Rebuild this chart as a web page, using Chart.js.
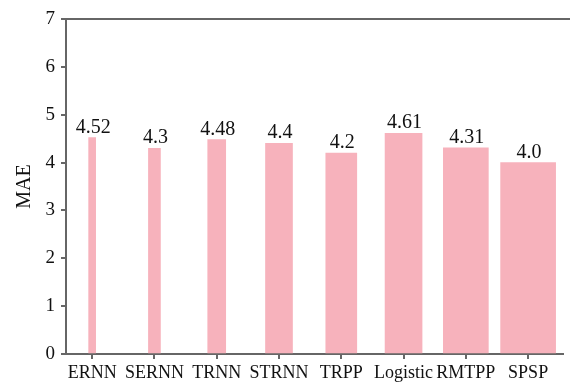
<!DOCTYPE html>
<html>
<head>
<meta charset="utf-8">
<script src="https://cdn.jsdelivr.net/npm/chart.js@4/dist/chart.umd.min.js"></script>
<style>
    html, body { margin: 0; padding: 0; background: #fff; }
    #wrap { width: 570px; height: 383px; }
</style>
</head>
<body>
<div id="wrap"><canvas id="maeChart" width="570" height="383"></canvas></div>
<script>
const categories = ['ERNN', 'SERNN', 'TRNN', 'STRNN', 'TRPP', 'Logistic', 'RMTPP', 'SPSP'];
const maeValues = [4.52, 4.3, 4.48, 4.4, 4.2, 4.61, 4.31, 4.0];
const maeLabels = ['4.52', '4.3', '4.48', '4.4', '4.2', '4.61', '4.31', '4.0'];
const yTicks = [0, 1, 2, 3, 4, 5, 6, 7];

// bar widths grow from left to right in the original figure
const barWidths = [7, 12, 18, 27, 31, 37, 45, 55];
const barColor = '#f7b2bc';
const axisColor = '#666666';
const serif = '"Liberation Serif", "Times New Roman", serif';

// one dataset per bar so each can have its own thickness
const datasets = categories.map((name, i) => ({
    label: name,
    data: [{ x: i, y: maeValues[i] }],
    backgroundColor: barColor,
    borderWidth: 0,
    barThickness: barWidths[i],
    grouped: false
}));

const valueLabelPlugin = {
    id: 'valueLabels',
    afterDatasetsDraw(chart) {
        const ctx = chart.ctx;
        ctx.save();
        ctx.font = '20px ' + serif;
        ctx.fillStyle = '#111';
        ctx.textAlign = 'center';
        ctx.textBaseline = 'alphabetic';
        chart.data.datasets.forEach((ds, i) => {
            const bar = chart.getDatasetMeta(i).data[0];
            if (!bar) return;
            ctx.fillText(maeLabels[i], bar.x + 1, bar.y - 5);
        });
        ctx.restore();
    }
};

// the frame in the original has a top line running to the right edge
const topBorderPlugin = {
    id: 'topBorder',
    afterDraw(chart) {
        const { ctx, chartArea } = chart;
        ctx.save();
        ctx.strokeStyle = axisColor;
        ctx.lineWidth = 2;
        ctx.beginPath();
        ctx.moveTo(chartArea.left, chartArea.top);
        ctx.lineTo(chart.width, chartArea.top);
        ctx.stroke();
        ctx.restore();
    }
};

const ctx = document.getElementById('maeChart').getContext('2d');
new Chart(ctx, {
    type: 'bar',
    data: { datasets: datasets },
    plugins: [valueLabelPlugin, topBorderPlugin],
    options: {
        responsive: false,
        animation: false,
        layout: { autoPadding: false, padding: { top: 19, right: 7, left: 0, bottom: 0 } },
        plugins: {
            legend: { display: false },
            tooltip: { enabled: false }
        },
        scales: {
            x: {
                type: 'linear',
                offset: false,
                min: -0.42,
                max: 7.56,
                afterBuildTicks: function(axis) {
                    axis.ticks = categories.map((c, i) => ({ value: i }));
                },
                afterFit: function(axis) { axis.height = 29; },
                grid: {
                    display: true,
                    offset: false,
                    drawOnChartArea: false,
                    drawTicks: true,
                    tickLength: 5,
                    color: axisColor,
                    lineWidth: 2
                },
                border: { display: true, color: axisColor, width: 2 },
                ticks: {
                    autoSkip: false,
                    maxRotation: 0,
                    padding: 3,
                    color: '#111',
                    font: { family: serif, size: 18 },
                    callback: function(value) {
                        return categories[value];
                    }
                }
            },
            y: {
                min: 0,
                max: 7,
                afterBuildTicks: function(axis) {
                    axis.ticks = yTicks.map(v => ({ value: v }));
                },
                afterFit: function(axis) { axis.width = 66; },
                grid: {
                    display: true,
                    drawOnChartArea: false,
                    drawTicks: true,
                    tickLength: 5,
                    color: axisColor,
                    lineWidth: 2
                },
                border: { display: true, color: axisColor, width: 2 },
                ticks: {
                    padding: 6,
                    color: '#111',
                    font: { family: serif, size: 19 }
                },
                title: {
                    display: true,
                    text: 'MAE',
                    color: '#111',
                    font: { family: serif, size: 20 },
                    padding: { top: 13, bottom: 0 }
                }
            }
        }
    }
});
</script>
</body>
</html>
